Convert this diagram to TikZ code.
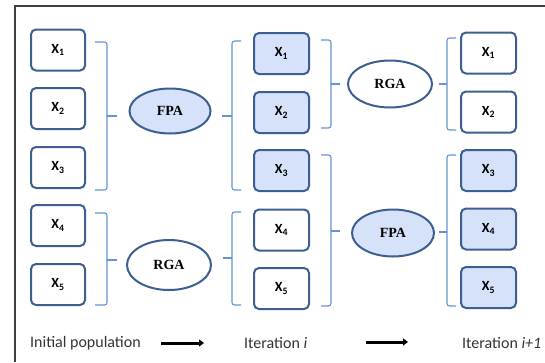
\documentclass[tikz,border=0pt]{standalone}
\usepackage{fontspec}
\newfontfamily\calib{Carlito}
\newfontfamily\tnr{Liberation Serif}
\usetikzlibrary{arrows.meta,shapes.geometric}
\definecolor{boxline}{RGB}{60,95,145}
\definecolor{boxfill}{RGB}{214,226,250}
\definecolor{brk}{RGB}{100,148,210}
\begin{document}
\begin{tikzpicture}[x=1pt,y=-1pt,
  xbox/.style={draw=boxline, line width=2pt, rounded corners=5pt, minimum width=54pt, minimum height=41pt, inner sep=0pt, font=\calib\bfseries\fontsize{14}{14}\selectfont},
  sel/.style={fill=boxfill},
  ell/.style={ellipse, draw=boxline, line width=2pt, inner sep=0pt, font=\tnr\bfseries\fontsize{14}{14}\selectfont},
  brace/.style={draw=brk, line width=1.1pt, rounded corners=2.5pt},
  lab/.style={anchor=west, inner sep=0pt, text=black!80, font=\calib\fontsize{16}{16}\selectfont},
  arr/.style={line width=3pt, -{Triangle[length=5pt,width=7pt]}}]
\useasboundingbox (0,0) rectangle (545,362);
\draw[line width=1.4pt, black!75] (15,362) -- (15,6) -- (545,6);

% left column
\node[xbox] (a1) at (58,50) {X\textsubscript{1}};
\node[xbox] (a2) at (58,108.5) {X\textsubscript{2}};
\node[xbox] (a3) at (58,167.5) {X\textsubscript{3}};
\node[xbox] (a4) at (58,225.5) {X\textsubscript{4}};
\node[xbox] (a5) at (58,284.5) {X\textsubscript{5}};

% middle column
\node[xbox,sel,minimum width=55pt] (b1) at (281.5,53.5) {X\textsubscript{1}};
\node[xbox,sel,minimum width=55pt] (b2) at (281.5,112.5) {X\textsubscript{2}};
\node[xbox,sel,minimum width=55pt] (b3) at (281.5,170.5) {X\textsubscript{3}};
\node[xbox,minimum width=55pt] (b4) at (281.5,230) {X\textsubscript{4}};
\node[xbox,minimum width=55pt] (b5) at (281.5,288.5) {X\textsubscript{5}};

% right column
\node[xbox,minimum width=55pt] (c1) at (488.5,53) {X\textsubscript{1}};
\node[xbox,minimum width=55pt] (c2) at (488.5,112) {X\textsubscript{2}};
\node[xbox,sel,minimum width=55pt] (c3) at (488.5,170.5) {X\textsubscript{3}};
\node[xbox,sel,minimum width=55pt] (c4) at (488.5,229) {X\textsubscript{4}};
\node[xbox,sel,minimum width=55pt] (c5) at (488.5,287.5) {X\textsubscript{5}};

% operators
\node[ell,sel,minimum width=81pt,minimum height=45pt] (fpa1) at (170,111) {FPA};
\node[ell,minimum width=84pt,minimum height=50pt] (rga1) at (169,265) {RGA};
\node[ell,minimum width=84pt,minimum height=47pt] (rga2) at (390,84) {RGA};
\node[ell,sel,minimum width=82pt,minimum height=47pt] (fpa2) at (393,233) {FPA};

% brackets
\draw[brace] (95,42) -- (107,42) -- (107,190) -- (95,190);
\draw[brace] (107,116) -- (117,116);
\draw[brace] (95,213) -- (107,213) -- (107,305) -- (95,305);
\draw[brace] (107,260) -- (117,260);

\draw[brace] (241,41) -- (232,41) -- (232,190) -- (241,190);
\draw[brace] (232,116) -- (222,116);
\draw[brace] (241,212) -- (232,212) -- (232,305) -- (241,305);
\draw[brace] (232,258) -- (223,258);

\draw[brace] (321,40) -- (331,40) -- (331,128) -- (321,128);
\draw[brace] (331,84) -- (340,84);
\draw[brace] (321,155) -- (331,155) -- (331,306) -- (321,306);
\draw[brace] (331,231) -- (340,231);

\draw[brace] (456,38) -- (447,38) -- (447,130) -- (456,130);
\draw[brace] (447,84) -- (439,84);
\draw[brace] (456,155) -- (447,155) -- (447,306) -- (456,306);
\draw[brace] (447,232) -- (439,232);

% bottom labels
\node[lab] (init) at (30,343) {Initial population};
\node[lab] (iti) at (244,343) {Iteration \textit{i}};
\node[lab] (itj) at (462,343) {Iteration \textit{i+1}};
\coordinate (p1s) at (161,343);
\coordinate (p1e) at (204,343);
\coordinate (p2s) at (366,342);
\coordinate (p2e) at (408,342);
\draw[arr] (p1s) -- (p1e);
\draw[arr] (p2s) -- (p2e);
\end{tikzpicture}
\end{document}
